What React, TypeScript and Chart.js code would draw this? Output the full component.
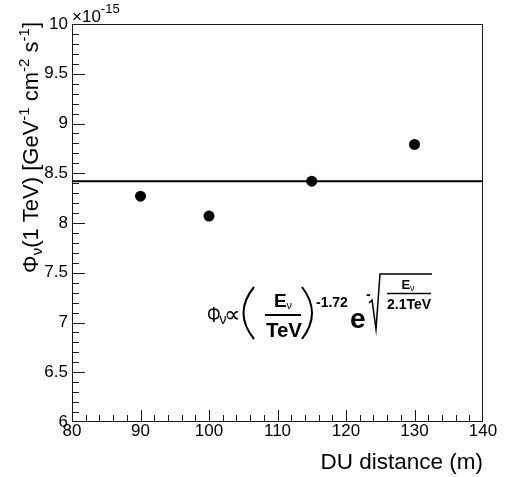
import { useEffect, useRef } from 'react';
import { Chart, registerables } from 'chart.js';

Chart.register(...registerables);

// ---- data ----
const distances = [90, 100, 115, 130]; // DU distance (m)
const fluxValues = [8.27, 8.07, 8.42, 8.79]; // flux at 1 TeV, in units of 1e-15
const fitX = [80, 140];
const fitY = [8.42, 8.42];
const xRange = [80, 140];
const yRange = [6, 10];
const xMajorStep = 10;
const yMajorStep = 0.5;
const xMinorDiv = 5;
const yMinorDiv = 5;
const yExponent = '-15';

const FAMILY = '"Liberation Sans", Arial, Helvetica, sans-serif';

type Seg = { t: string; s: number; dy?: number; b?: boolean; f?: string };

function richWidth(ctx: CanvasRenderingContext2D, segs: Seg[]) {
  let w = 0;
  for (const g of segs) {
    ctx.font = `${g.b ? 'bold ' : ''}${g.s}px ${g.f || FAMILY}`;
    w += ctx.measureText(g.t).width;
  }
  return w;
}

function drawRich(ctx: CanvasRenderingContext2D, segs: Seg[], x: number, y: number) {
  let cx = x;
  ctx.textAlign = 'left';
  ctx.textBaseline = 'alphabetic';
  for (const g of segs) {
    ctx.font = `${g.b ? 'bold ' : ''}${g.s}px ${g.f || FAMILY}`;
    ctx.fillText(g.t, cx, y + (g.dy || 0));
    cx += ctx.measureText(g.t).width;
  }
  return cx - x;
}

function drawCentered(ctx: CanvasRenderingContext2D, segs: Seg[], cx: number, y: number) {
  const w = richWidth(ctx, segs);
  drawRich(ctx, segs, cx - w / 2, y);
}

// draw a glyph scaled so that its ink box fits the given box
function drawFitted(ctx: CanvasRenderingContext2D, t: string, family: string, x0: number, y0: number, w: number) {
  const base = 20;
  ctx.font = `${base}px ${family}`;
  const m = ctx.measureText(t);
  const inkW = (m.actualBoundingBoxRight + m.actualBoundingBoxLeft) || base * 0.8;
  const size = base * w / inkW;
  ctx.font = `${size}px ${family}`;
  const m2 = ctx.measureText(t);
  ctx.textAlign = 'left';
  ctx.textBaseline = 'alphabetic';
  ctx.fillText(t, x0 + m2.actualBoundingBoxLeft, y0 + m2.actualBoundingBoxAscent);
}

const rootPlugin = {
  id: 'rootStyle',
  afterDatasetsDraw(chart: any) {
    const ctx: CanvasRenderingContext2D = chart.ctx;
    const { left, right, top, bottom } = chart.chartArea;
    const xs = chart.scales.x;
    const ys = chart.scales.y;
    ctx.save();
    ctx.strokeStyle = '#1a1a1a';
    ctx.lineWidth = 1;
    // frame
    ctx.strokeRect(left + 0.5, top + 0.5, right - left - 1, bottom - top - 1);
    // x ticks (inside)
    ctx.beginPath();
    const xMinorStep = xMajorStep / xMinorDiv;
    const nx = Math.round((xRange[1] - xRange[0]) / xMinorStep);
    for (let i = 1; i < nx; i++) {
      const v = xRange[0] + i * xMinorStep;
      const px = Math.round(xs.getPixelForValue(v)) + 0.5;
      const len = i % xMinorDiv === 0 ? 11 : 6;
      ctx.moveTo(px, bottom - 1);
      ctx.lineTo(px, bottom - 1 - len);
    }
    const yMinorStep = yMajorStep / yMinorDiv;
    const ny = Math.round((yRange[1] - yRange[0]) / yMinorStep);
    for (let i = 1; i < ny; i++) {
      const v = yRange[0] + i * yMinorStep;
      const py = Math.round(ys.getPixelForValue(v)) + 0.5;
      const len = i % yMinorDiv === 0 ? 12 : 6;
      ctx.moveTo(left + 1, py);
      ctx.lineTo(left + 1 + len, py);
    }
    ctx.stroke();
    ctx.restore();
  },
  afterDraw(chart: any) {
    const ctx: CanvasRenderingContext2D = chart.ctx;
    const { left, top } = chart.chartArea;
    ctx.save();
    ctx.fillStyle = '#000';
    ctx.strokeStyle = '#000';

    // exponent label
    drawRich(ctx, [
      { t: '\u00d710', s: 17 },
      { t: yExponent, s: 13, dy: -9 },
    ], left, top - 2);

    // y axis title (rotated)
    const ySegs: Seg[] = [
      { t: '\u03a6', s: 22 },
      { t: '\u03bd', s: 15, dy: 4 },
      { t: '(1 TeV) [GeV', s: 22 },
      { t: '-1', s: 15, dy: -9 },
      { t: ' cm', s: 22 },
      { t: '-2', s: 15, dy: -9 },
      { t: ' s', s: 22 },
      { t: '-1', s: 15, dy: -9 },
      { t: ']', s: 22 },
    ];
    const yw = richWidth(ctx, ySegs);
    ctx.save();
    ctx.translate(38, 22);
    ctx.rotate(-Math.PI / 2);
    drawRich(ctx, ySegs, -yw, 0);
    ctx.restore();

    // formula annotation
    const ox = 0, oy = 0;
    // Phi (slightly condensed, like the symbol font)
    ctx.save();
    ctx.translate(207 + ox, 322 + oy);
    ctx.scale(0.78, 1);
    ctx.font = `22px ${FAMILY}`;
    ctx.textAlign = 'left';
    ctx.textBaseline = 'alphabetic';
    ctx.fillText('\u03a6', 0, 0);
    ctx.restore();
    drawRich(ctx, [{ t: '\u03bd', s: 14 }], 219.5 + ox, 324 + oy);
    drawFitted(ctx, '\u221d', '"DejaVu Sans", sans-serif', 226 + ox, 310 + oy, 12.5);
    ctx.lineWidth = 2;
    // left paren
    ctx.beginPath();
    ctx.moveTo(254 + ox, 287 + oy);
    ctx.quadraticCurveTo(233 + ox, 313 + oy, 254 + ox, 339 + oy);
    ctx.stroke();
    // numerator / denominator
    drawCentered(ctx, [
      { t: 'E', s: 19, b: true },
      { t: '\u03bd', s: 11, dy: 2 },
    ], 283 + ox, 307 + oy);
    ctx.beginPath();
    ctx.moveTo(265 + ox, 315 + oy);
    ctx.lineTo(301 + ox, 315 + oy);
    ctx.stroke();
    drawCentered(ctx, [{ t: 'TeV', s: 20.5, b: true }], 284 + ox, 337 + oy);
    // right paren
    ctx.beginPath();
    ctx.moveTo(302 + ox, 287 + oy);
    ctx.quadraticCurveTo(322 + ox, 313 + oy, 302 + ox, 339 + oy);
    ctx.stroke();
    drawRich(ctx, [{ t: '-1.72', s: 14, b: true }], 316 + ox, 307 + oy);
    drawRich(ctx, [{ t: 'e', s: 28, b: true }], 350 + ox, 328 + oy);
    drawRich(ctx, [{ t: '-', s: 14, b: true }], 366 + ox, 299 + oy);
    // radical
    ctx.lineWidth = 1.5;
    ctx.beginPath();
    ctx.moveTo(369 + ox, 303 + oy);
    ctx.lineTo(372 + ox, 300 + oy);
    ctx.lineTo(376 + ox, 329 + oy);
    ctx.lineTo(380 + ox, 274 + oy);
    ctx.lineTo(432 + ox, 274 + oy);
    ctx.stroke();
    drawCentered(ctx, [
      { t: 'E', s: 13, b: true },
      { t: '\u03bd', s: 9, dy: 2 },
    ], 408 + ox, 289 + oy);
    ctx.beginPath();
    ctx.moveTo(387 + ox, 293.5 + oy);
    ctx.lineTo(431 + ox, 293.5 + oy);
    ctx.stroke();
    drawCentered(ctx, [{ t: '2.1TeV', s: 14, b: true }], 409 + ox, 309 + oy);
    ctx.restore();
  },
};

export default function App() {
  const ref = useRef<HTMLCanvasElement | null>(null);
  useEffect(() => {
    const canvas = ref.current;
    if (!canvas) return;
    Chart.defaults.font.family = FAMILY;
    Chart.defaults.color = '#000';
    const fmt = (v: any) => String(Math.round(Number(v) * 100) / 100);
    const chart = new Chart(canvas, {
      type: 'scatter',
      data: {
        datasets: [
          {
            label: 'data',
            data: distances.map((x, i) => ({ x, y: fluxValues[i] })),
            backgroundColor: '#000',
            borderColor: '#000',
            pointRadius: 5.5,
            pointHoverRadius: 5.5,
            borderWidth: 0,
            order: 0,
          },
          {
            label: 'fit',
            data: fitX.map((x, i) => ({ x, y: fitY[i] })),
            showLine: true,
            borderColor: '#000',
            borderWidth: 2,
            pointRadius: 0,
            order: 1,
          } as any,
        ],
      },
      options: {
        responsive: false,
        animation: false,
        events: [],
        layout: { padding: { top: 24, right: 22, left: 0, bottom: 0 } },
        plugins: {
          legend: { display: false },
          tooltip: { enabled: false },
        },
        scales: {
          x: {
            type: 'linear',
            min: xRange[0],
            max: xRange[1],
            grid: { display: false, drawTicks: false },
            border: { display: false },
            ticks: {
              stepSize: xMajorStep,
              font: { size: 17 },
              color: '#000',
              padding: -1,
              maxRotation: 0,
              autoSkip: false,
              callback: fmt,
            },
            title: {
              display: true,
              text: 'DU distance (m)',
              align: 'end',
              font: { size: 22.5 },
              color: '#000',
              padding: { top: 0, bottom: 1 },
            },
            afterFit: (s: any) => {
              s.height = 55;
              s.paddingLeft = 0;
              s.paddingRight = 0;
              s.paddingTop = 0;
              s.paddingBottom = 0;
            },
          },
          y: {
            type: 'linear',
            min: yRange[0],
            max: yRange[1],
            grid: { display: false, drawTicks: false },
            border: { display: false },
            ticks: {
              stepSize: yMajorStep,
              font: { size: 17 },
              color: '#000',
              padding: 4,
              autoSkip: false,
              callback: fmt,
            },
            afterFit: (s: any) => {
              s.width = 72;
              s.paddingLeft = 0;
              s.paddingRight = 0;
              s.paddingTop = 0;
              s.paddingBottom = 0;
            },
          },
        },
      },
      plugins: [rootPlugin],
    });
    return () => chart.destroy();
  }, []);
  return (
    <div style={{ position: 'fixed', left: 0, top: 0, width: 505, height: 477, background: '#fff' }}>
      <canvas ref={ref} width={505} height={477} style={{ display: 'block' }} />
    </div>
  );
}
